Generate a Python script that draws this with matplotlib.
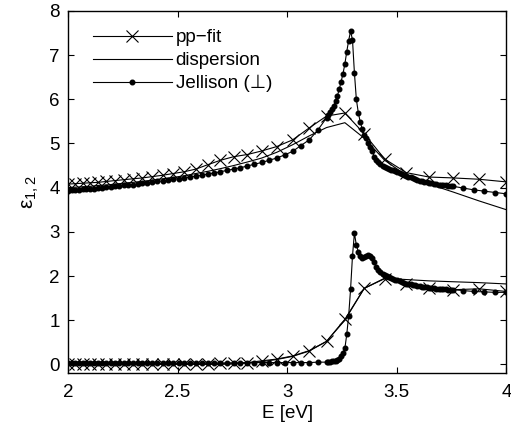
import numpy as np
import matplotlib
matplotlib.use('Agg')
import matplotlib.pyplot as plt

plt.rcParams['font.family'] = ['Liberation Sans', 'DejaVu Sans']
plt.rcParams['mathtext.fontset'] = 'custom'
plt.rcParams['mathtext.rm'] = 'Liberation Sans'
plt.rcParams['mathtext.default'] = 'regular'

# ── DATA ──────────────────────────────────────────────────────────
# model grid (wavelength in nm, 10 nm step) -> photon energy
lam_fit = [620, 610, 600, 590, 580, 570, 560, 550, 540, 530, 520, 510, 500, 490,
           480, 470, 460, 450, 440, 430, 420, 410, 400, 390, 380, 370, 360, 350,
           340, 330, 320, 310]

pp_eps1 = [4.08, 4.09, 4.10, 4.11, 4.12, 4.14, 4.16, 4.18, 4.20, 4.22, 4.25, 4.28,
           4.32, 4.36, 4.42, 4.52, 4.62, 4.70, 4.75, 4.83, 4.93, 5.08, 5.35, 5.62,
           5.69, 5.22, 4.65, 4.34, 4.24, 4.22, 4.19, 4.13]
pp_eps2 = [0.01, 0.01, 0.01, 0.01, 0.01, 0.01, 0.01, 0.01, 0.01, 0.01, 0.01, 0.01,
           0.01, 0.01, 0.01, 0.01, 0.02, 0.03, 0.04, 0.08, 0.12, 0.19, 0.31, 0.52,
           1.02, 1.72, 1.94, 1.81, 1.73, 1.69, 1.71, 1.65]

disp_eps1 = [4.00, 4.01, 4.02, 4.03, 4.05, 4.06, 4.08, 4.10, 4.12, 4.14, 4.17, 4.20,
             4.23, 4.27, 4.32, 4.37, 4.43, 4.50, 4.58, 4.67, 4.80, 4.97, 5.17, 5.36,
             5.47, 5.12, 4.62, 4.28, 4.08, 3.90, 3.70, 3.50]
disp_eps2 = [0.00, 0.00, 0.00, 0.00, 0.00, 0.00, 0.00, 0.00, 0.00, 0.00, 0.00, 0.00,
             0.00, 0.00, 0.00, 0.00, 0.00, 0.01, 0.03, 0.06, 0.11, 0.18, 0.30, 0.52,
             1.00, 1.72, 1.95, 1.92, 1.89, 1.87, 1.85, 1.82]

# Jellison data (5 nm, then 1 nm, then 4 nm steps)
lam_jel = [620, 615, 610, 605, 600, 595, 590, 585, 580, 575, 570, 565, 560, 555,
           550, 545, 540, 535, 530, 525, 520, 515, 510, 505, 500, 495, 490, 485,
           480, 475, 470, 465, 460, 455, 450, 445, 440, 435, 430, 425, 420, 415,
           410, 405, 400, 395,
           390, 389, 388, 387, 386, 385, 384, 383, 382, 381, 380, 379, 378, 377,
           376, 375, 374, 373, 372, 371, 370, 369, 368, 367, 366, 365, 364, 363,
           362, 361, 360, 359, 358, 357, 356, 355, 354, 353, 352, 351, 350, 349,
           348, 347, 346, 345, 344, 343, 342, 341, 340, 339, 338, 337, 336, 335,
           334, 333, 332, 331, 330,
           326, 322, 318, 314, 310]

jel_eps1 = [3.93, 3.94, 3.95, 3.95, 3.96, 3.97, 3.98, 3.98, 3.99, 4.00, 4.01, 4.02,
            4.03, 4.04, 4.05, 4.06, 4.07, 4.08, 4.10, 4.11, 4.12, 4.14, 4.15, 4.17,
            4.19, 4.20, 4.22, 4.24, 4.26, 4.28, 4.31, 4.33, 4.36, 4.39, 4.42, 4.45,
            4.49, 4.53, 4.57, 4.62, 4.67, 4.74, 4.82, 4.95, 5.08, 5.30,
            5.58, 5.64, 5.71, 5.78, 5.85, 5.96, 6.08, 6.23, 6.40, 6.58, 6.80, 7.08,
            7.33, 7.54, 7.35, 6.60, 6.00, 5.70, 5.48, 5.33, 5.20, 5.12, 5.02, 4.92,
            4.82, 4.70, 4.62, 4.57, 4.53, 4.50, 4.47, 4.45, 4.43, 4.41, 4.39, 4.37,
            4.35, 4.33, 4.31, 4.29, 4.27, 4.25, 4.23, 4.21, 4.19, 4.18, 4.16, 4.15,
            4.13, 4.12, 4.11, 4.10, 4.09, 4.08, 4.07, 4.06, 4.05, 4.05, 4.04, 4.04,
            4.03,
            3.99, 3.95, 3.92, 3.89, 3.86]
jel_eps2 = [0.02, 0.02, 0.02, 0.02, 0.02, 0.02, 0.02, 0.02, 0.02, 0.02, 0.02, 0.02,
            0.02, 0.02, 0.02, 0.02, 0.02, 0.02, 0.02, 0.02, 0.02, 0.02, 0.02, 0.02,
            0.02, 0.02, 0.02, 0.03, 0.03, 0.03, 0.03, 0.03, 0.03, 0.03, 0.03, 0.03,
            0.03, 0.04, 0.04, 0.04, 0.04, 0.04, 0.04, 0.04, 0.04, 0.05,
            0.05, 0.06, 0.06, 0.07, 0.07, 0.08, 0.10, 0.13, 0.18, 0.26, 0.36, 0.68,
            1.10, 1.70, 2.45, 2.97, 2.70, 2.55, 2.45, 2.41, 2.42, 2.45, 2.47, 2.46,
            2.40, 2.31, 2.20, 2.13, 2.08, 2.05, 2.02, 2.00, 1.98, 1.96, 1.94, 1.92,
            1.90, 1.88, 1.86, 1.84, 1.83, 1.82, 1.81, 1.80, 1.79, 1.78, 1.77, 1.76,
            1.75, 1.74, 1.73, 1.72, 1.72, 1.71, 1.71, 1.70, 1.70, 1.70, 1.69, 1.69,
            1.69,
            1.67, 1.65, 1.64, 1.63, 1.63]

# photon energy in eV
E_fit = 1240.0 / np.array(lam_fit)
E_jel = 1240.0 / np.array(lam_jel)

# ── PLOT ──────────────────────────────────────────────────────────
fig = plt.figure(figsize=(5.11, 4.37), dpi=100)
ax = fig.add_axes([0.133, 0.146, 0.858, 0.829])

lw = 0.8
ax.plot(E_fit, pp_eps1, color='k', lw=lw, marker='x', ms=9, mew=0.8, label='pp\u2212fit')
ax.plot(E_fit, disp_eps1, color='k', lw=lw, label='dispersion')
ax.plot(E_jel, jel_eps1, color='k', lw=lw, marker='o', ms=3.3, label='Jellison (\u22a5)')

ax.plot(E_fit, pp_eps2, color='k', lw=lw, marker='x', ms=9, mew=0.8)
ax.plot(E_fit, disp_eps2, color='k', lw=lw)
ax.plot(E_jel, jel_eps2, color='k', lw=lw, marker='o', ms=3.3)

ax.set_xlim(2, 4)
ax.set_ylim(-0.2, 8)
ax.set_xticks([2, 2.5, 3, 3.5, 4])
ax.set_xticklabels(['2', '2.5', '3', '3.5', '4'])
ax.set_yticks(range(0, 9))
ax.tick_params(direction='in', top=True, right=True, length=4, width=0.8,
               labelsize=13.5, pad=8)
ax.tick_params(axis='y', pad=6)
for sp in ax.spines.values():
    sp.set_linewidth(1.0)

ax.set_xlabel('E [eV]', fontsize=13.5, labelpad=3)
ax.set_ylabel('ε$_{1,2}$', fontsize=15, labelpad=6)

ax.legend(loc='upper left', frameon=False, fontsize=13.5, handlelength=4.2,
          handletextpad=0.2, labelspacing=0.3, borderaxespad=0.0,
          bbox_to_anchor=(0.04, 0.97))

fig.savefig('out.png', dpi=100)
